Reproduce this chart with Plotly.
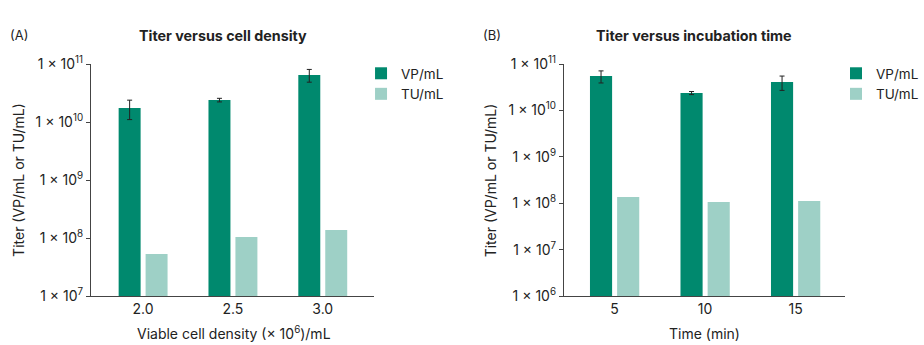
import plotly.graph_objects as go

# Panel A data
cat_a = ["2.0", "2.5", "3.0"]
vp_a = [1.74e10, 2.39e10, 6.46e10]
vp_a_err = [0.64e10, 0.17e10, 1.6e10]
tu_a = [5.3e7, 1.04e8, 1.37e8]

# Panel B data
cat_b = ["5", "10", "15"]
vp_b = [5.5e10, 2.37e10, 4.1e10]
vp_b_err = [1.6e10, 0.18e10, 1.4e10]
tu_b = [1.36e8, 1.06e8, 1.11e8]

ticks_a = [1e7, 1e8, 1e9, 1e10, 1e11]
ticks_b = [1e6, 1e7, 1e8, 1e9, 1e10, 1e11]

VP_COLOR = "rgb(0,137,110)"
TU_COLOR = "rgb(158,208,198)"
FONT = "Inter"
TXT = "#222"
W, H = 924, 345

def tick_text(vals):
    out = []
    for v in vals:
        e = len(str(int(v))) - 1
        out.append(f"1 × 10<sup>{e}</sup>")
    return out

fig = go.Figure()
err_style = dict(type="data", visible=True, color="#222", thickness=1, width=2.5)

fig.add_trace(go.Bar(x=cat_a, y=vp_a, name="VP/mL", marker_color=VP_COLOR,
                     error_y=dict(array=vp_a_err, **err_style),
                     xaxis="x", yaxis="y", legend="legend"))
fig.add_trace(go.Bar(x=cat_a, y=tu_a, name="TU/mL", marker_color=TU_COLOR,
                     xaxis="x", yaxis="y", legend="legend"))
fig.add_trace(go.Bar(x=cat_b, y=vp_b, name="VP/mL", marker_color=VP_COLOR,
                     error_y=dict(array=vp_b_err, **err_style),
                     xaxis="x2", yaxis="y2", legend="legend2"))
fig.add_trace(go.Bar(x=cat_b, y=tu_b, name="TU/mL", marker_color=TU_COLOR,
                     xaxis="x2", yaxis="y2", legend="legend2"))

px = lambda v: v / W
py = lambda v: 1 - v / H

axis_common = dict(showgrid=False, zeroline=False, showline=True, linecolor="#444", linewidth=1.2,
                   automargin=False, tickfont=dict(family=FONT, size=14, color=TXT))

fig.update_layout(
    template="none",
    width=W, height=H, margin=dict(l=0, r=0, t=0, b=0, pad=0),
    paper_bgcolor="white", plot_bgcolor="white",
    barmode="group", bargap=0.40, bargroupgap=0.185,
    font=dict(family=FONT, size=14, color=TXT),
    xaxis=dict(domain=[px(91.5), px(376)], anchor="y", type="category",
               range=[-0.58, 2.57], ticks="", ticklen=0, **axis_common),
    yaxis=dict(domain=[py(296), py(64)], anchor="x", type="log", range=[7, 11],
               tickvals=ticks_a, ticktext=tick_text(ticks_a), ticks="outside", ticklen=4,
               tickcolor="#444", tickwidth=1.2, **axis_common),
    xaxis2=dict(domain=[px(567), px(850)], anchor="y2", type="category",
                range=[-0.56, 2.55], ticks="", ticklen=0, **axis_common),
    yaxis2=dict(domain=[py(296), py(64)], anchor="x2", type="log", range=[6, 11],
                tickvals=ticks_b, ticktext=tick_text(ticks_b), ticks="outside", ticklen=4,
                tickcolor="#444", tickwidth=1.2, **axis_common),
    legend=dict(x=px(363), y=py(58), xanchor="left", yanchor="top", bgcolor="rgba(0,0,0,0)",
                font=dict(family=FONT, size=13.5, color=TXT), tracegroupgap=0, itemclick=False),
    legend2=dict(x=px(841), y=py(58), xanchor="left", yanchor="top", bgcolor="rgba(0,0,0,0)",
                 font=dict(family=FONT, size=13.5, color=TXT), tracegroupgap=0, itemclick=False),
    showlegend=True,
)

annos = [
    dict(text="(A)", x=px(8), y=py(35), xanchor="left", yanchor="middle", font=dict(size=13)),
    dict(text="<b>Titer versus cell density</b>", x=px(224), y=py(35), xanchor="center", yanchor="middle", font=dict(size=14.3)),
    dict(text="(B)", x=px(484), y=py(35), xanchor="left", yanchor="middle", font=dict(size=13)),
    dict(text="<b>Titer versus incubation time</b>", x=px(698), y=py(35), xanchor="center", yanchor="middle", font=dict(size=14.3)),
    dict(text="Viable cell density (× 10<sup>6</sup>)/mL", x=px(235), y=py(333), xanchor="center", yanchor="middle", font=dict(size=14)),
    dict(text="Time (min)", x=px(708), y=py(333), xanchor="center", yanchor="middle", font=dict(size=14)),
    dict(text="Titer (VP/mL or TU/mL)", x=px(18), y=py(180), xanchor="center", yanchor="middle", textangle=-90, font=dict(size=14)),
    dict(text="Titer (VP/mL or TU/mL)", x=px(493), y=py(180), xanchor="center", yanchor="middle", textangle=-90, font=dict(size=14)),
]
for a in annos:
    fig.add_annotation(xref="paper", yref="paper", showarrow=False, **a)

fig.write_html("out.html")
